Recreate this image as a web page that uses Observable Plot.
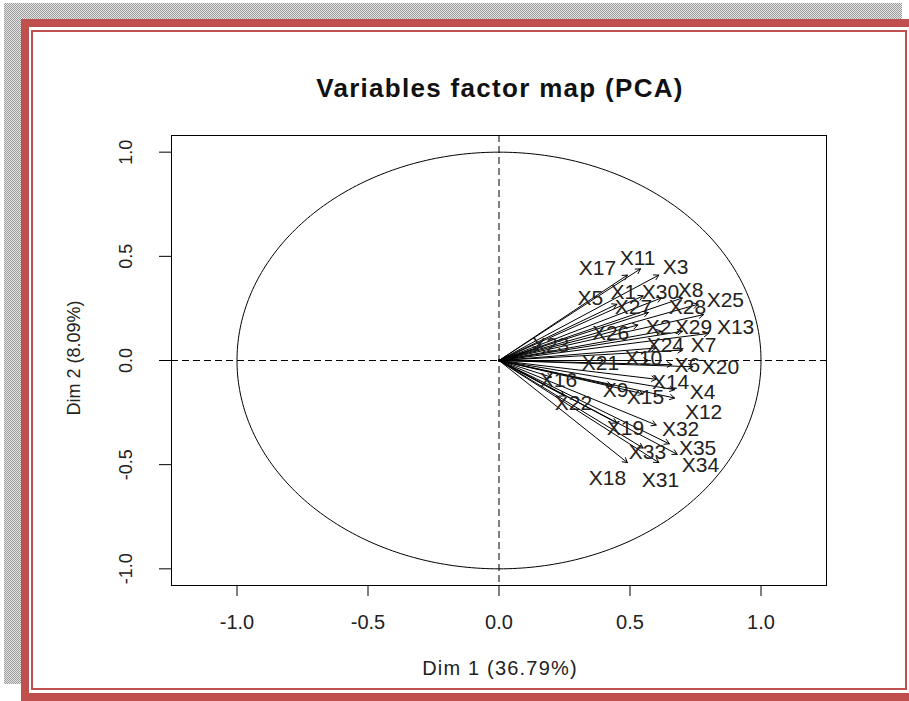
<!DOCTYPE html>
<html><head><meta charset="utf-8">
<script src="https://cdn.jsdelivr.net/npm/d3@7"></script>
<script src="https://cdn.jsdelivr.net/npm/@observablehq/plot@0.6"></script>
<style>
body{margin:0;background:#fff;font-family:"Liberation Sans",Arial,sans-serif;}
#page{position:relative;width:909px;height:701px;overflow:hidden;background:#fff;}
.shadow{position:absolute;left:4px;top:3px;width:898px;height:681px;background:repeating-conic-gradient(#9c9c9c 0 25%,#e4e4e4 0 50%) 0 0/2px 2px;}
.outer{position:absolute;left:21px;top:19px;width:920px;height:666px;border:8px solid #C0504D;background:#fff;}
.inner{position:absolute;left:31px;top:30px;width:872px;height:656px;border:2px solid #C0504D;}
#title{position:absolute;left:0;top:75px;width:1000px;text-align:center;font-weight:bold;font-size:26px;line-height:26px;letter-spacing:1.3px;color:#111;}
#xlab{position:absolute;left:0;top:658px;width:1000px;text-align:center;font-size:20px;line-height:20px;letter-spacing:1.2px;color:#222;}
#ylab{position:absolute;left:74px;top:358px;transform:translate(-50%,-50%) rotate(-90deg);white-space:nowrap;font-size:18px;line-height:18px;color:#222;}
#chart{position:absolute;left:0;top:0;}
</style></head>
<body>
<div id="page">
  <div class="shadow"></div>
  <div class="outer"></div>
  <div class="inner"></div>
  <div id="chart"></div>
  <div id="title">Variables factor map (PCA)</div>
  <div id="xlab">Dim 1 (36.79%)</div>
  <div id="ylab">Dim 2 (8.09%)</div>
</div>
<script>
// Variable names
const names = ["X1","X2","X3","X4","X5","X6","X7","X8","X9","X10","X11","X12","X13","X14","X15","X16","X17","X18","X19","X20","X21","X22","X23","X24","X25","X26","X27","X28","X29","X30","X31","X32","X33","X34","X35"];
// Arrow tips (Dim 1, Dim 2 coordinates)
const dim1 = [0.55,0.62,0.61,0.67,0.45,0.66,0.70,0.70,0.43,0.57,0.54,0.67,0.80,0.60,0.55,0.20,0.49,0.49,0.45,0.74,0.40,0.25,0.15,0.60,0.76,0.53,0.57,0.78,0.70,0.62,0.61,0.60,0.55,0.68,0.65];
const dim2 = [0.31,0.14,0.41,-0.14,0.27,-0.02,0.05,0.30,-0.12,0.00,0.44,-0.18,0.13,-0.09,-0.16,-0.08,0.41,-0.49,-0.30,-0.03,0.00,-0.17,0.06,0.06,0.27,0.17,0.23,0.22,0.14,0.30,-0.49,-0.31,-0.42,-0.45,-0.40];
// Label positions (Dim 1, Dim 2 coordinates, as placed by autoLab)
const labX = [0.475,0.609,0.674,0.777,0.349,0.719,0.781,0.731,0.445,0.552,0.529,0.781,0.903,0.655,0.559,0.227,0.376,0.414,0.483,0.845,0.387,0.284,0.197,0.635,0.864,0.426,0.513,0.719,0.742,0.616,0.616,0.693,0.567,0.769,0.758];
const labY = [0.326,0.158,0.446,-0.154,0.298,-0.024,0.072,0.336,-0.144,0.010,0.490,-0.250,0.158,-0.106,-0.178,-0.096,0.442,-0.566,-0.326,-0.034,-0.014,-0.206,0.072,0.072,0.288,0.130,0.254,0.254,0.158,0.326,-0.576,-0.331,-0.442,-0.504,-0.422];
// Axis ticks
const xTicks = [-1.0,-0.5,0.0,0.5,1.0];
const yTicks = [-1.0,-0.5,0.0,0.5,1.0];

const vars = names.map((n,i)=>({name:n, d1:dim1[i], d2:dim2[i], lx:labX[i], ly:labY[i]}));
// unit correlation circle
const circle = d3.range(0, 361, 1).map(a => ({x: Math.cos(a*Math.PI/180), y: Math.sin(a*Math.PI/180)}));
const fmt = d => d.toFixed(1);

const plot = Plot.plot({
  width: 909, height: 701,
  marginLeft: 171, marginRight: 83, marginTop: 135, marginBottom: 116,
  style: {background: "transparent", fontFamily: "'Liberation Sans', Arial, sans-serif", fontSize: "20px", color: "#222"},
  x: {domain: [-1.25, 1.25]},
  y: {domain: [-1.08, 1.08]},
  marks: [
    Plot.ruleX([0], {stroke: "#000", strokeDasharray: "7,4"}),
    Plot.ruleY([0], {stroke: "#000", strokeDasharray: "7,4"}),
    Plot.line(circle, {x: "x", y: "y", stroke: "#000", strokeWidth: 1}),
    Plot.arrow(vars, {x1: d => 0, y1: d => 0, x2: "d1", y2: "d2", headLength: 8, stroke: "#000", strokeWidth: 1}),
    Plot.text(vars, {x: "lx", y: "ly", text: "name", fontSize: 21, fill: "#222"}),
    Plot.frame({stroke: "#000", strokeWidth: 1}),
    Plot.axisX({ticks: xTicks, tickSize: 11, tickPadding: 18, tickFormat: fmt, label: null, fontSize: 20, stroke: "#000"}),
    Plot.axisY({ticks: yTicks, tickSize: 12, tickPadding: 28, tickRotate: -90, tickFormat: fmt, label: null, fontSize: 18, stroke: "#000"})
  ]
});
document.getElementById("chart").appendChild(plot);
</script>
</body></html>
